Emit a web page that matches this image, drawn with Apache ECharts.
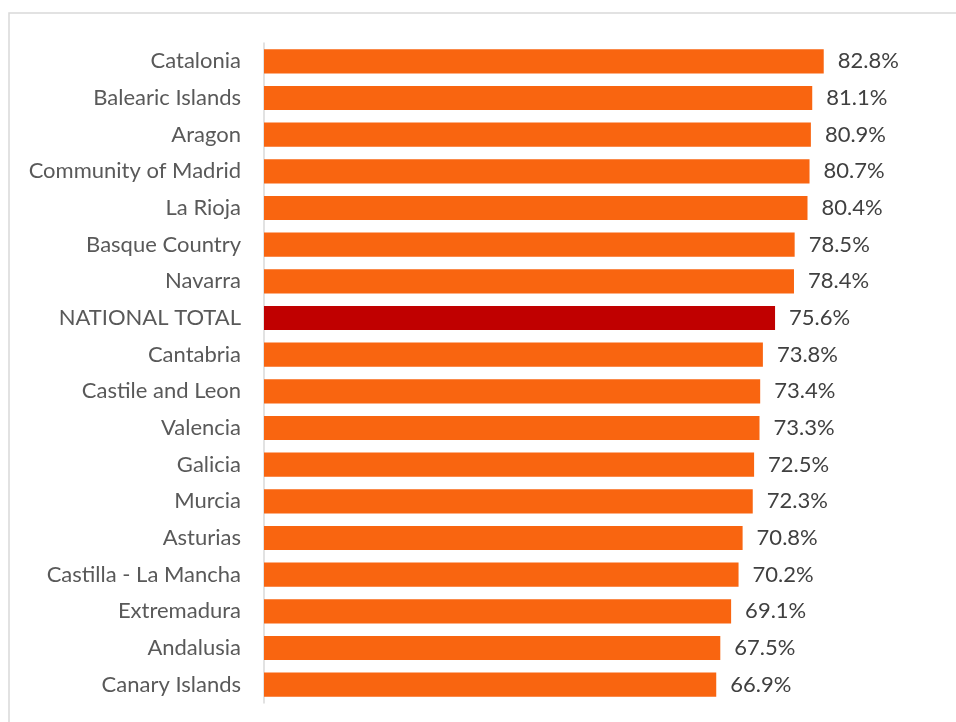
<!DOCTYPE html>
<html>
<head>
<meta charset="utf-8">
<title>Regions</title>
<script src="https://cdn.jsdelivr.net/npm/echarts@6/dist/echarts.min.js"></script>
<style>
  html, body { margin: 0; padding: 0; background: #fff; }
  #chart { width: 956px; height: 722px; }
</style>
</head>
<body>
<div id="chart"></div>
<script>
// regions, top to bottom as in the picture
var regions = [
    'Catalonia', 'Balearic Islands', 'Aragon', 'Community of Madrid', 'La Rioja',
    'Basque Country', 'Navarra', 'NATIONAL TOTAL', 'Cantabria', 'Castile and Leon',
    'Valencia', 'Galicia', 'Murcia', 'Asturias', 'Castilla - La Mancha',
    'Extremadura', 'Andalusia', 'Canary Islands'
];
var rates = [
    82.8, 81.1, 80.9, 80.7, 80.4,
    78.5, 78.4, 75.6, 73.8, 73.4,
    73.3, 72.5, 72.3, 70.8, 70.2,
    69.1, 67.5, 66.9
];
var totalName = 'NATIONAL TOTAL';

var myChart = echarts.init(document.getElementById('chart'));

var option = {
    animation: false,
    backgroundColor: '#fff',
    textStyle: { fontFamily: 'Lato' },
    graphic: [{
        type: 'rect',
        shape: { x: 9, y: 13, width: 960, height: 720 },
        style: { fill: 'none', stroke: '#d9d9d9', lineWidth: 1.5 },
        silent: true
    }],
    grid: { left: 264, right: 16, top: 43, bottom: 19 },
    xAxis: {
        type: 'value',
        min: 0,
        max: 100,
        show: false
    },
    yAxis: {
        type: 'category',
        inverse: true,
        data: regions,
        axisLine: { lineStyle: { color: '#d9d9d9', width: 1.5 } },
        axisTick: { show: false },
        axisLabel: { color: '#595959', fontSize: 22, margin: 23 }
    },
    series: [{
        type: 'bar',
        barCategoryGap: '34%',
        data: rates.map(function (v, i) {
            return {
                value: v,
                itemStyle: { color: regions[i] === totalName ? '#c00000' : '#f96510' }
            };
        }),
        label: {
            show: true,
            position: 'right',
            distance: 14,
            color: '#404040',
            fontSize: 22,
            formatter: function (p) { return p.value.toFixed(1) + '%'; }
        }
    }]
};

myChart.setOption(option);
</script>
</body>
</html>
